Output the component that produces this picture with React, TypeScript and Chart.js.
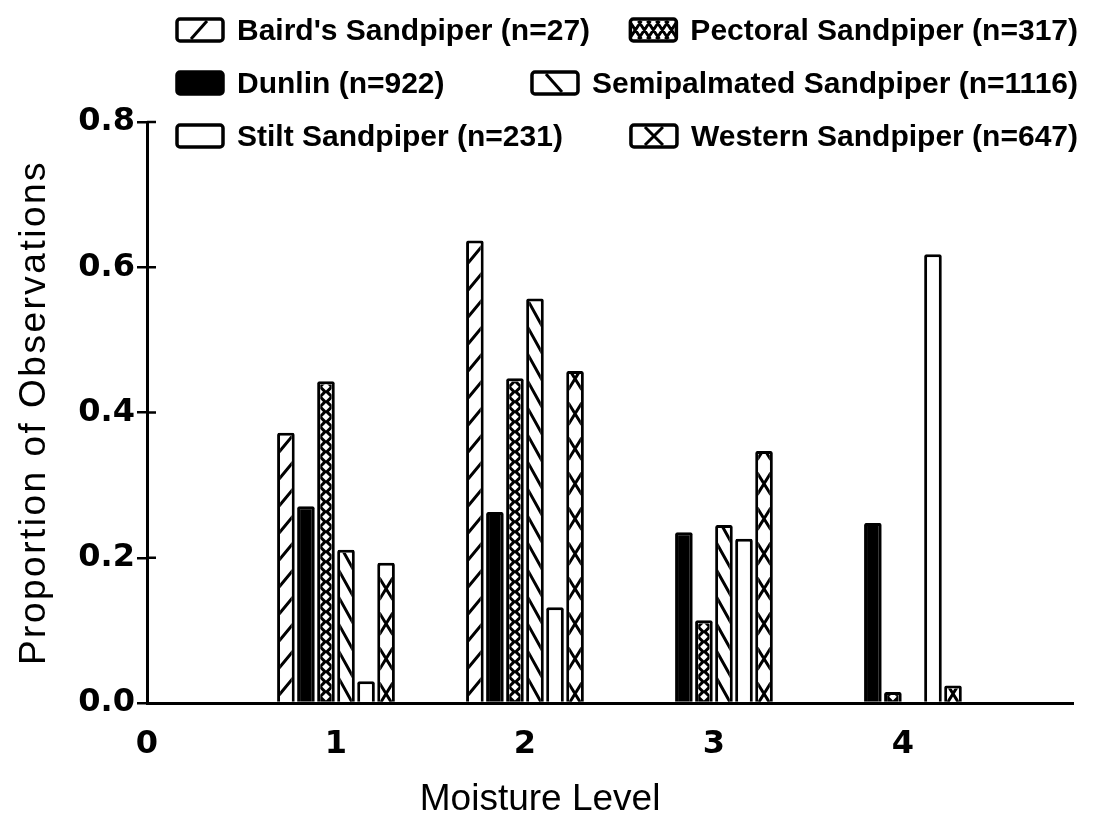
import React, { useEffect, useRef } from 'react';
import { Chart, registerables } from 'chart.js';

Chart.register(...registerables);

// ---- data ----
const moistureLevels = [1, 2, 3, 4];
const bairdsSandpiper = [0.372, 0.637, null, null];
const dunlin = [0.271, 0.263, 0.235, 0.248];
const pectoralSandpiper = [0.443, 0.447, 0.114, 0.015];
const semipalmatedSandpiper = [0.211, 0.557, 0.245, null];
const stiltSandpiper = [0.03, 0.132, 0.226, 0.618];
const westernSandpiper = [0.193, 0.457, 0.347, 0.024];

const seriesLabels = [
  "Baird's Sandpiper (n=27)",
  'Dunlin (n=922)',
  'Pectoral Sandpiper (n=317)',
  'Semipalmated Sandpiper (n=1116)',
  'Stilt Sandpiper (n=231)',
  'Western Sandpiper (n=647)',
];
const seriesValues = [
  bairdsSandpiper,
  dunlin,
  pectoralSandpiper,
  semipalmatedSandpiper,
  stiltSandpiper,
  westernSandpiper,
];
// fill style for each series: hatch kind
const seriesFills = ['slash', 'solid', 'lattice', 'backslash', 'open', 'xchain'];
// legend rows, as dataset indices (left item, right item)
const legendRows = [
  [0, 2],
  [1, 3],
  [4, 5],
];
const xTickLabels = ['0', '1', '2', '3', '4'];
const yTickStep = 0.2;

const xAxisTitle = 'Moisture Level';
const yAxisTitle = 'Proportion of Observations';

// ---- styling ----
const W = 1095;
const H = 821;
const INK = '#000';
const BAR_BORDER = 3;
const TICK_FONT = { family: '"DejaVu Sans", sans-serif', size: 32, weight: 'bold' as const };
const LEGEND_FONT = 'bold 30px "Liberation Sans", Arial, sans-serif';
const TITLE_FONT = '37px "Liberation Sans", Arial, sans-serif';

// Draws the hatch of one bar inside the rectangle (l, t, r, b)
function drawHatch(ctx: CanvasRenderingContext2D, kind: string, l: number, t: number, r: number, b: number) {
  const w = r - l;
  if (w <= 0 || b - t <= 0) return;
  const cx = (l + r) / 2;
  ctx.save();
  ctx.beginPath();
  ctx.rect(l, t, w, b - t);
  ctx.clip();
  ctx.strokeStyle = INK;
  ctx.fillStyle = INK;
  ctx.lineWidth = 3;
  ctx.lineCap = 'butt';
  if (kind === 'slash') {
    const P = 27;
    const rise = 1.2 * w;
    ctx.beginPath();
    for (let y0 = b + P; y0 > t - P; y0 -= P) {
      ctx.moveTo(l - 2, y0 - 8 + 2 * 1.2);
      ctx.lineTo(r + 2, y0 - 8 - rise - 2 * 1.2);
    }
    ctx.stroke();
  } else if (kind === 'backslash') {
    const P = 27;
    const rise = 1.8 * w;
    ctx.beginPath();
    for (let y0 = b + P; y0 > t - P - rise; y0 -= P) {
      ctx.moveTo(l - 2, y0 - rise - 3.6);
      ctx.lineTo(r + 2, y0 + 3.6);
    }
    ctx.stroke();
  } else if (kind === 'xchain') {
    const P = 35;
    const d = 10;
    ctx.beginPath();
    for (let yc = b - 8; yc > t - P; yc -= P) {
      ctx.moveTo(l - 1, yc - d - 1);
      ctx.lineTo(cx, yc);
      ctx.lineTo(r + 1, yc + d + 1);
      ctx.moveTo(r + 1, yc - d - 1);
      ctx.lineTo(cx, yc);
      ctx.lineTo(l - 1, yc + d + 1);
    }
    ctx.stroke();
  } else if (kind === 'lattice') {
    const P = 10;
    const hd = 3.8;
    ctx.fillRect(l, t, w, b - t);
    ctx.fillStyle = '#fff';
    const diamond = (x: number, y: number) => {
      ctx.moveTo(x, y - hd);
      ctx.lineTo(x + hd, y);
      ctx.lineTo(x, y + hd);
      ctx.lineTo(x - hd, y);
      ctx.closePath();
    };
    ctx.beginPath();
    for (let y = b - P / 2; y > t - P; y -= P) {
      diamond(cx, y);
      diamond(l - 1, y - P / 2);
      diamond(r + 1, y - P / 2);
    }
    ctx.fill();
  } else if (kind === 'solid') {
    ctx.fillRect(l, t, w, b - t);
  }
  ctx.restore();
}

// Legend key: a rounded box with a single mark of the series' hatch
function drawSwatch(ctx: CanvasRenderingContext2D, kind: string, x: number, cy: number) {
  const sw = 46;
  const sh = 22;
  const y = cy - sh / 2;
  ctx.save();
  ctx.strokeStyle = INK;
  ctx.fillStyle = kind === 'solid' ? INK : '#fff';
  ctx.beginPath();
  ctx.roundRect(x, y, sw, sh, 3);
  ctx.fill();

  // inner mark, clipped to the box
  ctx.save();
  ctx.beginPath();
  ctx.rect(x, y, sw, sh);
  ctx.clip();
  const t = y + 2;
  const b = y + sh - 2;
  const mx = x + sw / 2;
  ctx.lineWidth = 3;
  ctx.beginPath();
  if (kind === 'slash') {
    ctx.moveTo(mx - 9, b);
    ctx.lineTo(mx + 7, t);
  } else if (kind === 'backslash') {
    ctx.moveTo(mx - 9, t);
    ctx.lineTo(mx + 7, b);
  } else if (kind === 'xchain') {
    ctx.moveTo(mx - 9, t);
    ctx.lineTo(mx + 9, b);
    ctx.moveTo(mx + 9, t);
    ctx.lineTo(mx - 9, b);
  } else if (kind === 'lattice') {
    // a row of crossed strokes
    for (let k = -2; k <= 2; k++) {
      const ox = mx + k * 9;
      ctx.moveTo(ox - 6, t);
      ctx.lineTo(ox + 6, b);
      ctx.moveTo(ox + 6, t);
      ctx.lineTo(ox - 6, b);
    }
  }
  ctx.stroke();
  ctx.restore();

  ctx.lineWidth = 3.5;
  ctx.beginPath();
  ctx.roundRect(x, y, sw, sh, 3);
  ctx.stroke();
  ctx.restore();
}

const hatchPlugin = {
  id: 'barHatch',
  afterDatasetsDraw(chart: any) {
    const ctx = chart.ctx;
    chart.data.datasets.forEach((ds: any, di: number) => {
      const kind = seriesFills[di];
      if (kind === 'open' || kind === 'solid') return;
      const meta = chart.getDatasetMeta(di);
      meta.data.forEach((el: any, i: number) => {
        const v = seriesValues[di][i];
        if (v === null || v === undefined) return;
        const p = el.getProps(['x', 'y', 'base', 'width'], true);
        const l = p.x - p.width / 2 + BAR_BORDER;
        const r = p.x + p.width / 2 - BAR_BORDER;
        drawHatch(ctx, kind, l, p.y + BAR_BORDER, r, p.base);
      });
    });
  },
};

const legendPlugin = {
  id: 'speciesLegend',
  afterDraw(chart: any) {
    const ctx = chart.ctx;
    const left = 177;
    const right = 1078;
    const firstRowY = 30;
    const rowGap = 53;
    const swatchW = 46;
    const gap = 14;
    ctx.save();
    ctx.font = LEGEND_FONT;
    ctx.fillStyle = INK;
    ctx.textBaseline = 'middle';
    ctx.textAlign = 'left';
    legendRows.forEach((row, r) => {
      const cy = firstRowY + r * rowGap;
      row.forEach((di, c) => {
        const label = chart.data.datasets[di].label;
        const tw = ctx.measureText(label).width;
        const x = c === 0 ? left : right - tw - gap - swatchW;
        drawSwatch(ctx, seriesFills[di], x, cy);
        ctx.fillStyle = INK;
        ctx.font = LEGEND_FONT;
        ctx.fillText(label, x + swatchW + gap, cy + 2);
      });
    });
    ctx.restore();
  },
};

const axisDecorPlugin = {
  id: 'axisDecor',
  afterDraw(chart: any) {
    const ctx = chart.ctx;
    const xs = chart.scales.x;
    const ys = chart.scales.y;
    ctx.save();
    // inner halves of the y ticks (ticks cross the axis)
    ctx.strokeStyle = INK;
    ctx.lineWidth = 2.5;
    ctx.beginPath();
    ys.ticks.forEach((t: any) => {
      if (t.value === 0) return;
      const y = ys.getPixelForValue(t.value);
      ctx.moveTo(ys.right, y);
      ctx.lineTo(ys.right + 9, y);
    });
    ctx.stroke();
    // axis titles
    ctx.fillStyle = INK;
    ctx.font = TITLE_FONT;
    ctx.textAlign = 'center';
    ctx.textBaseline = 'alphabetic';
    ctx.fillText(xAxisTitle, xs.getPixelForValue(2.08), 810);
    ctx.save();
    ctx.translate(45, (ys.top + ys.bottom) / 2);
    ctx.rotate(-Math.PI / 2);
    (ctx as any).letterSpacing = '2.5px';
    ctx.fillText(yAxisTitle, 0, 0);
    ctx.restore();
    ctx.restore();
  },
};

export default function App() {
  const canvasRef = useRef<HTMLCanvasElement | null>(null);

  useEffect(() => {
    document.body.style.margin = '0';
    const canvas = canvasRef.current;
    if (!canvas) return;
    const datasets = seriesLabels.map((label, di) => ({
      label,
      data: moistureLevels.map((x, i) => ({ x, y: seriesValues[di][i] })),
      backgroundColor: seriesFills[di] === 'solid' ? INK : '#fff',
      borderColor: INK,
      borderWidth: BAR_BORDER,
      borderRadius: 2,
      borderSkipped: 'start' as const,
    }));
    const chart = new Chart(canvas, {
      type: 'bar',
      data: { datasets },
      options: {
        animation: false,
        responsive: false,
        events: [],
        layout: { padding: { top: 122, right: 22, left: 0, bottom: 0 } },
        datasets: { bar: { categoryPercentage: 0.636, barPercentage: 0.88 } },
        plugins: {
          legend: { display: false },
          tooltip: { enabled: false },
          title: { display: false },
        },
        scales: {
          x: {
            type: 'linear',
            min: 0,
            max: 4.9,
            offset: false,
            z: 1,
            afterFit: (s: any) => {
              s.height = 118;
            },
            grid: { display: false, offset: false, drawOnChartArea: false, drawTicks: false },
            border: { display: true, color: INK, width: 3 },
            ticks: {
              stepSize: 1,
              includeBounds: false,
              autoSkip: false,
              maxRotation: 0,
              padding: 22,
              color: INK,
              font: TICK_FONT,
              callback: (v: any) => (Number.isInteger(v) ? xTickLabels[v] ?? '' : ''),
            },
          },
          y: {
            min: 0,
            max: 0.8,
            afterFit: (s: any) => {
              s.width = 147;
            },
            grid: { drawOnChartArea: false, drawTicks: true, tickLength: 10, color: INK, lineWidth: 2.5 },
            border: { display: true, color: INK, width: 3 },
            ticks: {
              stepSize: yTickStep,
              padding: 2,
              color: INK,
              font: TICK_FONT,
              callback: (v: any) => Number(v).toFixed(1),
            },
          },
        },
      },
      plugins: [hatchPlugin, axisDecorPlugin, legendPlugin],
    });
    return () => chart.destroy();
  }, []);

  return (
    <div style={{ width: W, height: H, background: '#fff' }}>
      <canvas ref={canvasRef} width={W} height={H} style={{ display: 'block' }} />
    </div>
  );
}
